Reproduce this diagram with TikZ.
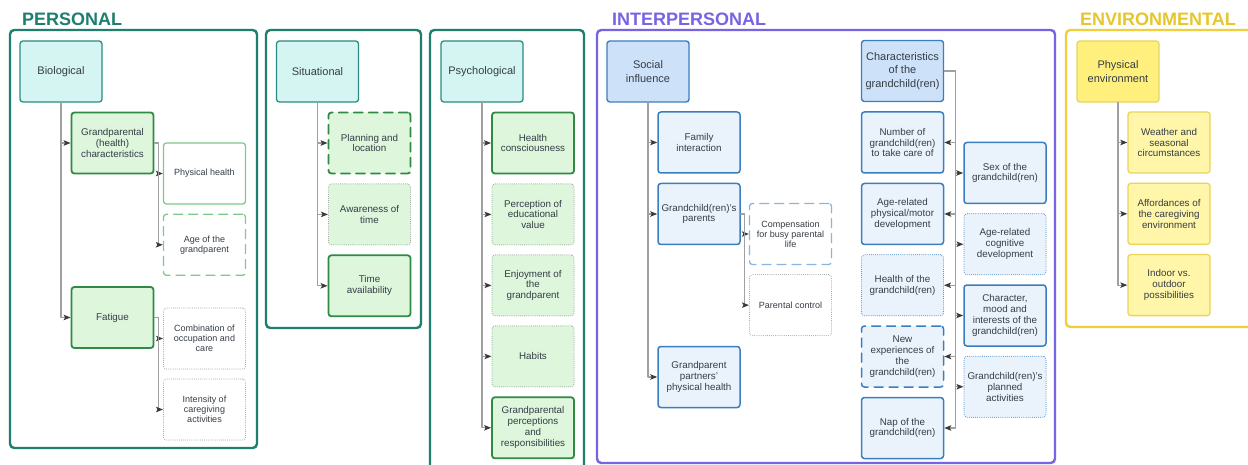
\documentclass[tikz,border=0pt]{standalone}
\usepackage{fontspec}
\setmainfont{Liberation Sans}
\usepackage{tikz}
\usetikzlibrary{arrows.meta,positioning}
\definecolor{perteal}{HTML}{1E7F6E}
\definecolor{rootteal}{HTML}{2A8C84}
\definecolor{rootcyan}{HTML}{D4F5F2}
\definecolor{grnline}{HTML}{2F8A45}
\definecolor{grnfill}{HTML}{DDF6DC}
\definecolor{ltgrn}{HTML}{80C98B}
\definecolor{dotgrey}{HTML}{8E9E90}
\definecolor{intpurple}{HTML}{7664E2}
\definecolor{blline}{HTML}{3B7EC0}
\definecolor{blroot}{HTML}{CDE1F8}
\definecolor{blleaf}{HTML}{EAF3FC}
\definecolor{ltblue}{HTML}{8DB4DC}
\definecolor{envtitle}{HTML}{E6C62C}
\definecolor{envframe}{HTML}{F0CF3C}
\definecolor{yelroot}{HTML}{FFF07E}
\definecolor{yelleaf}{HTML}{FFF6AA}
\definecolor{yelline}{HTML}{EBD45A}
\definecolor{ink}{HTML}{353D45}
\definecolor{wiregrey}{HTML}{A0A0A0}
\definecolor{tipgrey}{HTML}{3A3A3A}
\tikzset{
    every picture/.style={line cap=round,line join=round},
    groupframe/.style={line width=2.4pt,rounded corners=1.5mm},
    grouptitle/.style={anchor=west,inner sep=0pt,font=\fontsize{18}{20}\selectfont\bfseries},
    rootbox/.style={minimum width=82pt,minimum height=61pt,inner sep=2pt,
      rounded corners=1mm,line width=1.3pt,align=center,text=ink,
      font=\fontsize{11}{13.3}\selectfont},
    leafbox/.style={rootbox,font=\fontsize{9.8}{10.9}\selectfont},
    subbox/.style={rootbox,font=\fontsize{9}{10}\selectfont},
    dashedbox/.style={dash pattern=on 9pt off 6pt},
    dottedbox/.style={dash pattern=on 0pt off 2.1pt,line width=1pt},
    tealroot/.style={draw=rootteal,fill=rootcyan},
    greenbox/.style={draw=grnline,fill=grnfill,line width=1.8pt},
    palebox/.style={draw=ltgrn,fill=white,line width=1.3pt},
    greybox/.style={draw=dotgrey,fill=white,dottedbox},
    blueroot/.style={draw=blline,fill=blroot,line width=1.4pt},
    bluebox/.style={draw=blline,fill=blleaf,line width=1.5pt},
    yelroot/.style={draw=yelline,fill=yelroot,line width=1.3pt},
    yelbox/.style={draw=yelline,fill=yelleaf,line width=1.3pt},
    branch/.style={draw=wiregrey,line width=1.1pt,
      -{Stealth[length=7pt,width=5.5pt,inset=1.5pt,color=tipgrey,fill=tipgrey]}},
    node distance=9pt
}
\begin{document}
\begin{tikzpicture}[x=1pt,y=-1pt]
  \path[use as bounding box,fill=white] (0,0) rectangle (1248,465);
  % group frames and titles
  \draw[groupframe,draw=perteal] (10,30) rectangle (257,448);
  \draw[groupframe,draw=perteal] (266,30) rectangle (421,328);
  \draw[groupframe,draw=perteal] (430,30) rectangle (584,485);
  \draw[groupframe,draw=intpurple] (597,30) rectangle (1055,463);
  \draw[groupframe,draw=envframe] (1066,30) rectangle (1275,327);
  \node[grouptitle,text=perteal] (tper) at (22,19) {PERSONAL};
  \node[grouptitle,text=intpurple] (tint) at (612,19) {INTERPERSONAL};
  \node[grouptitle,text=envtitle] (tenv) at (1080,19) {ENVIRONMENTAL};

  % personal: biological
  \node[rootbox,tealroot] (bio) at (61,71.5) {Biological};
  \node[leafbox,greenbox] (gpc) at (112.5,143) {Grandparental\\(health)\\characteristics};
  \node[subbox,palebox] (phys) at (204.5,173.5) {Physical health};
  \node[subbox,palebox,dashedbox,below=of phys] (agegp) {Age of the\\grandparent};
  \node[leafbox,greenbox] (fatg) at (112.5,317.5) {Fatigue};
  \node[subbox,greybox] (comb) at (204.5,338.5) {Combination of\\occupation and\\care};
  \node[subbox,greybox,below=of comb] (intens) {Intensity of\\caregiving\\activities};
  \draw[branch] (bio) |- (gpc);
  \draw[branch] (bio) |- (fatg);
  \draw[branch] (gpc.east) -- ++(4pt,0pt) coordinate (gps) |- (phys);
  \draw[branch] (gps) |- (agegp);
  \draw[branch] (fatg.east) -- ++(4pt,0pt) coordinate (fts) |- (comb);
  \draw[branch] (fts) |- (intens);

  % personal: situational
  \node[rootbox,tealroot] (sit) at (317.5,71.5) {Situational};
  \node[leafbox,greenbox,dashedbox] (plan) at (369.5,143) {Planning and\\location};
  \node[leafbox,greybox,fill=grnfill,below=of plan] (aware) {Awareness of\\time};
  \node[leafbox,greenbox,below=of aware] (avail) {Time\\availability};
  \foreach \n in {plan,aware,avail}
    \draw[branch] (sit) |- (\n);

  % personal: psychological
  \node[rootbox,tealroot] (psy) at (482,71.5) {Psychological};
  \node[leafbox,greenbox] (hcon) at (533,143) {Health\\consciousness};
  \node[leafbox,greybox,fill=grnfill,below=of hcon] (eduv) {Perception of\\educational\\value};
  \node[leafbox,greybox,fill=grnfill,below=of eduv] (enjoy) {Enjoyment of\\the\\grandparent};
  \node[leafbox,greybox,fill=grnfill,below=of enjoy] (habit) {Habits};
  \node[leafbox,greenbox,below=of habit] (resp) {Grandparental\\perceptions\\and\\responsibilities};
  \foreach \n in {hcon,eduv,enjoy,habit,resp}
    \draw[branch] (psy) |- (\n);

  % interpersonal: social influence
  \node[rootbox,blueroot] (soc) at (648,71.5) {Social\\influence};
  \node[leafbox,bluebox] (fam) at (699,142.5) {Family\\interaction};
  \node[leafbox,bluebox,below=of fam] (par) {Grandchild(ren)'s\\parents};
  \node[subbox,draw=ltblue,fill=white,line width=1.3pt,dashedbox] (comp) at (790.5,234) {Compensation\\for busy parental\\life};
  \node[subbox,greybox,below=of comp] (ctrl) {Parental control};
  \node[leafbox,bluebox] (prt) at (699,377) {Grandparent\\partners'\\physical health};
  \foreach \n in {fam,par,prt}
    \draw[branch] (soc) |- (\n);
  \draw[branch] (par.east) -- ++(4pt,0pt) coordinate (pas) |- (comp);
  \draw[branch] (pas) |- (ctrl);

  % interpersonal: characteristics of the grandchild(ren)
  \node[rootbox,blueroot] (chr) at (902.5,71) {Characteristics\\of the\\grandchild(ren)};
  \node[leafbox,bluebox] (num) at (902.5,142.5) {Number of\\grandchild(ren)\\to take care of};
  \node[leafbox,bluebox,below=of num] (motor) {Age-related\\physical/motor\\development};
  \node[leafbox,bluebox,dottedbox,below=of motor] (hlth) {Health of the\\grandchild(ren)};
  \node[leafbox,bluebox,dashedbox,below=of hlth] (newx) {New\\experiences of\\the\\grandchild(ren)};
  \node[leafbox,bluebox,below=of newx] (nap) {Nap of the\\grandchild(ren)};
  \node[leafbox,bluebox] (sex) at (1005,173) {Sex of the\\grandchild(ren)};
  \node[leafbox,bluebox,dottedbox,below=of sex] (cogn) {Age-related\\cognitive\\development};
  \node[leafbox,bluebox,below=of cogn] (mood) {Character,\\mood and\\interests of the\\grandchild(ren)};
  \node[leafbox,bluebox,dottedbox,below=of mood] (plnd) {Grandchild(ren)'s\\planned\\activities};
  \draw[branch] (chr.east) -- ++(11pt,0pt) coordinate (chs) |- (num);
  \foreach \n in {motor,hlth,newx,nap,sex,cogn,mood,plnd}
    \draw[branch] (chs) |- (\n);

  % environmental
  \node[rootbox,yelroot] (env) at (1118,71.5) {Physical\\environment};
  \node[leafbox,yelbox] (wthr) at (1169,142.5) {Weather and\\seasonal\\circumstances};
  \node[leafbox,yelbox,below=of wthr] (affd) {Affordances of\\the caregiving\\environment};
  \node[leafbox,yelbox,below=of affd] (indr) {Indoor vs.\\outdoor\\possibilities};
  \foreach \n in {wthr,affd,indr}
    \draw[branch] (env) |- (\n);
\end{tikzpicture}
\end{document}
